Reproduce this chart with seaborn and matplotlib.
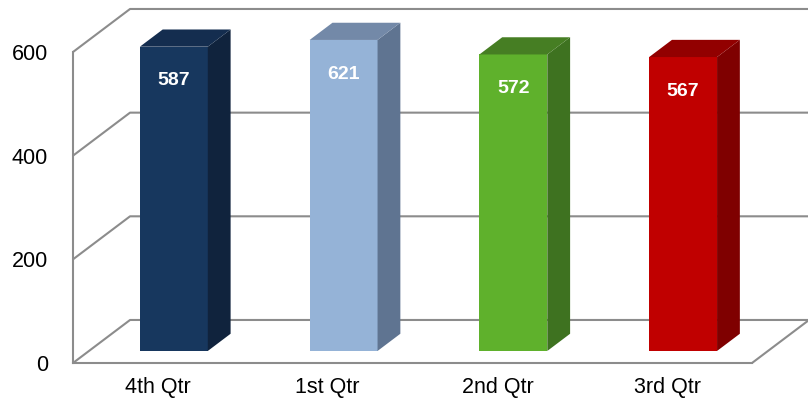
import seaborn as sns
import matplotlib.pyplot as plt
import pandas as pd
from matplotlib.patches import Polygon

# quarterly values
quarters = ["4th Qtr", "1st Qtr", "2nd Qtr", "3rd Qtr"]
values = [587, 621, 572, 567]
yticks = [0, 200, 400, 600]

# face colours for the 3D look
front_colors = ["#17375E", "#95B3D7", "#5FB12C", "#C00000"]
side_colors = ["#10233D", "#5F7491", "#3E7220", "#7F0000"]
top_colors = ["#142D4F", "#7389A8", "#467E23", "#920000"]

sns.set_style("white")
plt.rcParams["font.family"] = ["Liberation Sans", "DejaVu Sans"]

ymax = 600
# Excel clips 3D columns at the axis maximum
df = pd.DataFrame({"quarter": quarters,
                   "value": [min(v, ymax) for v in values]})

fig = plt.figure(figsize=(8.08, 4.05), dpi=100)
ax = fig.add_axes([73 / 808, 1 - 363 / 405, (752 - 73) / 808, (363 - 52) / 405])

# depth of the 3D box in data units (x: categories, y: values)
DX, DY = 0.336, 83.0
bar_w = 0.4
f_front, f_back = 0.28, 0.68

sns.barplot(data=df, x="quarter", y="value", hue="quarter",
            palette=front_colors, width=bar_w, saturation=1,
            legend=False, ax=ax, zorder=3, linewidth=0, edgecolor="none")

ax.set_xlim(-0.5, len(quarters) - 0.5)
ax.set_ylim(0, ymax)

grid_kw = dict(color="#8C8C8C", lw=1.5, clip_on=False, zorder=1)
x0, x1 = -0.5, len(quarters) - 0.5
for t in yticks:
    ax.plot([x0, x0 + DX, x1 + DX], [t, t + DY, t + DY], **grid_kw)
ax.plot([x1, x1 + DX], [0, DY], **grid_kw)

# move front faces into the box and add side / top faces
bars = sorted(ax.patches, key=lambda p: p.get_x())
for i, p in enumerate(bars):
    v = p.get_height()
    ox, oy = f_front * DX, f_front * DY
    bx, by = f_back * DX, f_back * DY
    xl = p.get_x()
    xr = xl + p.get_width()
    p.set_x(xl + ox)
    p.set_y(oy)
    p.set_clip_on(False)
    side = Polygon([(xr + ox, oy), (xr + ox, v + oy), (xr + bx, v + by), (xr + bx, by)],
                   closed=True, facecolor=side_colors[i], edgecolor="none",
                   zorder=3, clip_on=False)
    top = Polygon([(xl + ox, v + oy), (xr + ox, v + oy), (xr + bx, v + by), (xl + bx, v + by)],
                  closed=True, facecolor=top_colors[i], edgecolor="none",
                  zorder=3, clip_on=False)
    ax.add_patch(side)
    ax.add_patch(top)
    ax.text(i + ox, v + oy - 66, str(values[i]), color="white", fontsize=14,
            fontweight="bold", ha="center", va="center", zorder=4)

ax.set_yticks(yticks)
ax.set_xticks([i - 0.5 for i in range(len(quarters) + 1)], minor=False)
ax.set_xticklabels([""] * (len(quarters) + 1))
ax.set_xticks(range(len(quarters)), minor=True)
ax.set_xticklabels(quarters, minor=True)
ax.tick_params(axis="x", which="minor", length=0, labelsize=15.5, pad=10,
               labelcolor="black")
ax.tick_params(axis="x", which="major", length=5, width=1.5, color="#8C8C8C",
               direction="out")
ax.tick_params(axis="y", length=6, width=1.5, color="#8C8C8C", labelsize=15.5,
               pad=12, direction="out", labelcolor="black")
ax.set_xlabel("")
ax.set_ylabel("")

for s in ["top", "right"]:
    ax.spines[s].set_visible(False)
for s in ["left", "bottom"]:
    ax.spines[s].set_color("#8C8C8C")
    ax.spines[s].set_linewidth(1.5)

fig.savefig("out.png", dpi=100)
